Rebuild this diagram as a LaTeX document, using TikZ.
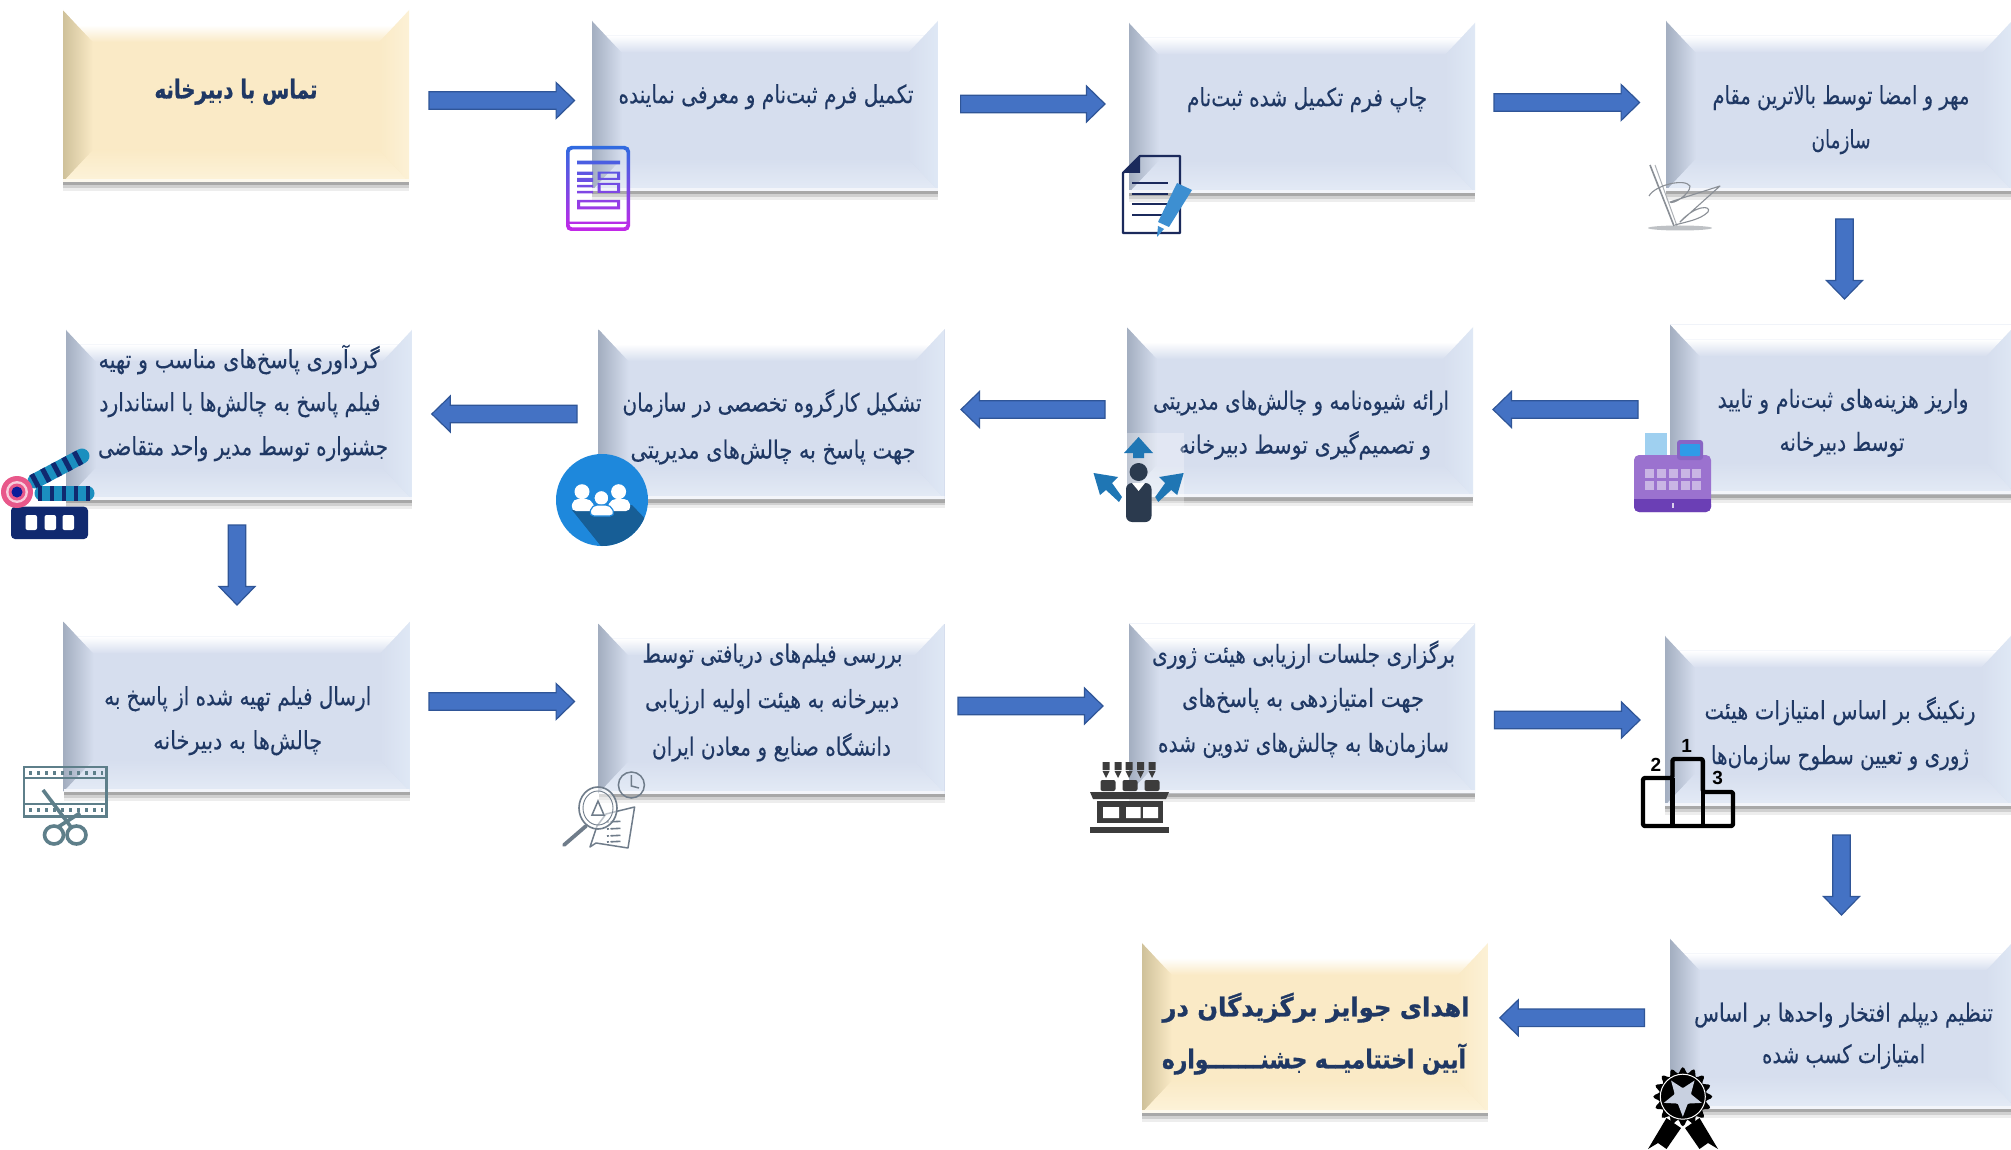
\documentclass[tikz,border=0pt]{standalone}
\usepackage{fontspec}
\usepackage{graphicx}
\usetikzlibrary{calc,shadows}
\TeXXeTstate=1
\newfontfamily\fa[Script=Arabic,FakeBold=0.25]{DejaVu Sans}
\newfontfamily\fab[Script=Arabic,BoldFeatures={FakeBold=1.0}]{DejaVu Sans}
\newfontfamily\numfont{Liberation Sans}
\definecolor{ink}{HTML}{1F3864}
\definecolor{bluemain}{HTML}{D6DEEE}
\definecolor{blueleft}{HTML}{A3AEC0}
\definecolor{blueright}{HTML}{DFE8F5}
\definecolor{bluebottom}{HTML}{E4EBF6}
\definecolor{beigemain}{HTML}{FAEAC6}
\definecolor{beigeleft}{HTML}{CFC19A}
\definecolor{beigeright}{HTML}{FCF1D6}
\definecolor{beigebottom}{HTML}{FDF3DA}
\definecolor{arrowfill}{HTML}{4472C4}
\definecolor{arrowedge}{HTML}{2F5597}
\definecolor{iconnavy}{HTML}{1B2A5C}
\definecolor{penblue}{HTML}{3D8FD1}
\definecolor{siggray}{HTML}{8A8F96}
\definecolor{regbody}{HTML}{9B72CF}
\definecolor{regdark}{HTML}{6B3FB5}
\definecolor{regkey}{HTML}{C9B5E4}
\definecolor{regpaper}{HTML}{9FD0F0}
\definecolor{regscreen}{HTML}{2F9BE8}
\definecolor{persdark}{HTML}{2B3A4E}
\definecolor{persblue}{HTML}{1F76B4}
\definecolor{teamblue}{HTML}{1E88DC}
\definecolor{teamdark}{HTML}{175E96}
\definecolor{clapnavy}{HTML}{10296F}
\definecolor{clapstripe}{HTML}{1B8FBF}
\definecolor{clappink}{HTML}{E8588A}
\definecolor{filmteal}{HTML}{5E7F8A}
\definecolor{lensgray}{HTML}{6F7C8A}
\definecolor{jury}{HTML}{3C3C3C}
\definecolor{medalstar}{HTML}{C8D0E0}
\definecolor{formtop}{HTML}{2F6BE0}
\definecolor{formbottom}{HTML}{C427E8}
\newsavebox\fitbx
% one text line: x offset, y offset from box centre (y down), target width, text
\newcommand\fitline[2]{\sbox\fitbx{#2}\pgfmathsetmacro\fitratio{#1/\the\wd\fitbx}\scalebox{\fitratio}[1]{\usebox\fitbx}}
\newcommand\tl[4]{\makebox[0pt][c]{\hspace*{\dimexpr 2\dimexpr #1pt\relax\relax}\raisebox{\dimexpr -#2pt-6.5pt\relax}[0pt][0pt]{\fitline{#3}{#4}}}}
\newcommand\bevel[4]{%
 \path (path picture bounding box.north west) coordinate (nw)
       (path picture bounding box.north east) coordinate (ne)
       (path picture bounding box.south west) coordinate (sw)
       (path picture bounding box.south east) coordinate (se);
 \shade[left color=#2,middle color=#2!18!#1,right color=#1] (nw) -- ($(nw)+(30pt,-32pt)$) -- ($(sw)+(30pt,32pt)$) -- (sw) -- cycle;
 \shade[left color=#1,right color=#3] (ne) -- ($(ne)+(-30pt,-32pt)$) -- ($(se)+(-30pt,32pt)$) -- (se) -- cycle;
 \shade[top color=#1,bottom color=#4] (sw) -- ($(sw)+(30pt,32pt)$) -- ($(se)+(-30pt,32pt)$) -- (se) -- cycle;
 \fill[white!70!#1] (sw) rectangle ($(se)+(0pt,3pt)$);
 \fill[white] (nw) -- (ne) -- ($(ne)+(-14pt,-15pt)$) -- ($(nw)+(14pt,-15pt)$) -- cycle;
 \shade[top color=white,bottom color=#1] ($(nw)+(14pt,-15pt)$) -- ($(ne)+(-14pt,-15pt)$) -- ($(ne)+(-30pt,-32pt)$) -- ($(nw)+(30pt,-32pt)$) -- cycle;
}
\tikzset{
 boxbase/.style={rectangle,minimum width=346pt,minimum height=170pt,inner sep=0pt,outer sep=0pt,text=ink,
   general shadow={shadow yshift=-9pt,opacity=.07,fill=black},
   general shadow={shadow yshift=-6pt,opacity=.12,fill=black},
   general shadow={shadow yshift=-3.5pt,opacity=.3,fill=black!70}},
 bluebox/.style={boxbase,fill=bluemain,font=\fa\fontsize{25pt}{28pt}\selectfont,
   path picture={\bevel{bluemain}{blueleft}{blueright}{bluebottom}}},
 beigebox/.style={boxbase,fill=beigemain,font=\fab\bfseries\fontsize{26pt}{28pt}\selectfont,
   path picture={\bevel{beigemain}{beigeleft}{beigeright}{beigebottom}}},
 flow/.style={draw=arrowedge,fill=arrowfill,line width=1.2pt,line join=miter,
   to path={let \p1=(\tikztostart),\p2=(\tikztotarget),\n1={atan2(\y2-\y1,\x2-\x1)},\n2={veclen(\x2-\x1,\y2-\y1)} in
     (\p1) ++(\n1+90:8.8pt) -- ($(\p1)+(\n1:{\n2-18.5pt})+(\n1+90:8.8pt)$) -- ($(\p1)+(\n1:{\n2-18.5pt})+(\n1+90:18pt)$)
     -- (\p2) -- ($(\p1)+(\n1:{\n2-18.5pt})+(\n1-90:18pt)$) -- ($(\p1)+(\n1:{\n2-18.5pt})+(\n1-90:8.8pt)$) -- ($(\p1)+(\n1-90:8.8pt)$) -- cycle}},
 podnum/.style={font=\numfont\bfseries\fontsize{19pt}{20pt}\selectfont,text=black,inner sep=0pt},
}
\begin{document}
\begin{tikzpicture}[x=1pt,y=-1pt]
\fill[white] (0,0) rectangle (2011,1150);
\useasboundingbox (0,0) rectangle (2011,1150);
\clip (0,0) rectangle (2011,1150);
% ---------- boxes
\node[beigebox,minimum height=172pt] (b1) at (236,96) {\tl{0}{-4}{163}{\beginR تماس با دبیرخانه\endR}};
\node[bluebox] (b2) at (765,105.7) {\tl{1}{-9}{295}{\beginR تکمیل فرم ثبت‌نام و معرفی نماینده\endR}};
\node[bluebox] (b3) at (1302,107.7) {\tl{5}{-8}{240}{\beginR چاپ فرم تکمیل شده ثبت‌نام\endR}};
\node[bluebox] (b4) at (1839,105.7) {\tl{2}{-8}{257}{\beginR مهر و امضا توسط بالاترین مقام\endR}\tl{2}{36}{59}{\beginR سازمان\endR}};
\node[bluebox] (b5) at (1843,409.3) {\tl{0}{-8}{251}{\beginR واریز هزینه‌های ثبت‌نام و تایید\endR}\tl{-1}{35}{125}{\beginR توسط دبیرخانه\endR}};
\node[bluebox] (b6) at (1300,412) {\tl{1}{-9}{296}{\beginR ارائه شیوه‌نامه و چالش‌های مدیریتی\endR}\tl{5}{35}{252}{\beginR و تصمیم‌گیری توسط دبیرخانه\endR}};
\node[bluebox] (b7) at (771.5,414) {\tl{0.5}{-9}{299}{\beginR تشکیل کارگروه تخصصی در سازمان\endR}\tl{1.5}{38}{285}{\beginR جهت پاسخ به چالش‌های مدیریتی\endR}};
\node[bluebox] (b8) at (239,414.7) {\tl{0}{-53}{281}{\beginR گردآوری پاسخ‌های مناسب و تهیه\endR}\tl{1}{-10}{281}{\beginR فیلم پاسخ به چالش‌ها با استاندارد\endR}\tl{4}{34}{290}{\beginR جشنواره توسط مدیر واحد متقاضی\endR}};
\node[bluebox] (b9) at (236.7,706.7) {\tl{1}{-8}{267}{\beginR ارسال فیلم تهیه شده از پاسخ به\endR}\tl{1}{36}{169}{\beginR چالش‌ها به دبیرخانه\endR}};
\node[bluebox] (b10) at (771.5,708.5) {\tl{1}{-52.5}{260}{\beginR بررسی فیلم‌های دریافتی توسط\endR}\tl{0.5}{-7}{254}{\beginR دبیرخانه به هیئت اولیه ارزیابی\endR}\tl{0}{40.5}{239}{\beginR دانشگاه صنایع و معادن ایران\endR}};
\node[bluebox] (b11) at (1302,708.4) {\tl{1.5}{-52}{303}{\beginR برگزاری جلسات ارزیابی هیئت ژوری\endR}\tl{1}{-8}{242}{\beginR جهت امتیازدهی به پاسخ‌های\endR}\tl{1.5}{37}{291}{\beginR سازمان‌ها به چالش‌های تدوین شده\endR}};
\node[bluebox] (b12) at (1838,720.7) {\tl{2}{-8}{271}{\beginR رنکینگ بر اساس امتیازات هیئت\endR}\tl{2}{37}{258}{\beginR ژوری و تعیین سطوح سازمان‌ها\endR}};
\node[bluebox] (b13) at (1843,1023.5) {\tl{0.6}{-8.5}{299}{\beginR تنظیم دیپلم افتخار واحدها بر اساس\endR}\tl{0.6}{33}{163}{\beginR امتیازات کسب شده\endR}};
\node[beigebox] (b14) at (1315,1027.8) {\tl{1}{-18}{307}{\beginR اهدای جوایز برگزیدگان در\endR}\tl{-1}{34}{304}{\beginR آیین اختتامیــه جشنـــــــواره\endR}};
% ---------- arrows
\draw[flow] ([shift={(20,4.5)}]b1.east) to ([shift={(-17.4,-5.2)}]b2.west);
\draw[flow] ([shift={(22.6,-1.7)}]b2.east) to ([shift={(-24,-3.7)}]b3.west);
\draw[flow] ([shift={(19,-5.2)}]b3.east) to ([shift={(-26.4,-3.2)}]b4.west);
\draw[flow] ([shift={(5.5,28.3)}]b4.south) to ([shift={(1.5,-25.3)}]b5.north);
\draw[flow] ([shift={(-32,0.2)}]b5.west) to ([shift={(20,-2.5)}]b6.east);
\draw[flow] ([shift={(-22,-2.5)}]b6.west) to ([shift={(16.5,-4.5)}]b7.east);
\draw[flow] ([shift={(-21.5,0)}]b7.west) to ([shift={(19.8,-0.7)}]b8.east);
\draw[flow] ([shift={(-2,25.3)}]b8.south) to ([shift={(0.3,-16.7)}]b9.north);
\draw[flow] ([shift={(19.3,-5.2)}]b9.east) to ([shift={(-23.9,-7)}]b10.west);
\draw[flow] ([shift={(13.5,-2.5)}]b10.east) to ([shift={(-26,-2.4)}]b11.west);
\draw[flow] ([shift={(19.5,11.6)}]b11.east) to ([shift={(-25,-0.7)}]b12.west);
\draw[flow] ([shift={(3.5,29.3)}]b12.south) to ([shift={(-1.5,-23.5)}]b13.north);
\draw[flow] ([shift={(-25.5,-5.7)}]b13.west) to ([shift={(11.8,-10)}]b14.east);
% ---------- icon: form
\shade[top color=formtop,bottom color=formbottom,even odd rule]
  [rounded corners=5pt] (566,146) rectangle (630,231) [rounded corners=3pt] (569.5,149.5) rectangle (626.5,227.5) [sharp corners]
  (577,160.7) rectangle (620,164.3)
  (577,171.7) rectangle (593,175) (577,178) rectangle (593,182) (577,185) rectangle (593,187.5) (577,191) rectangle (593,193.5)
  (597.5,171.7) rectangle (620,180) (600.5,173.7) rectangle (617,178)
  (597.5,183) rectangle (620,193) (600.5,185) rectangle (617,191)
  (577,200) rectangle (620,209.3) (580,202.5) rectangle (617,206.5)
  (569.5,221.7) rectangle (626.5,224);
% ---------- icon: document and pen
\draw[iconnavy,line width=2.2pt,line join=round] (1140,156) -- (1180,156) -- (1180,233) -- (1123,233) -- (1123,173) -- cycle;
\fill[iconnavy] (1140,156) -- (1140,173) -- (1123,173) -- cycle;
\foreach \yy in {183,194,204,215} \draw[iconnavy,line width=2.8pt] (1132,\yy) -- (1168,\yy);
\fill[penblue] (1177,183) -- (1192,190) -- (1169,227) -- (1158,222) -- cycle;
\fill[penblue] (1158,226) -- (1164,229) -- (1157,237) -- cycle;
% ---------- icon: signature
\fill[siggray,opacity=.55] (1680,228) ellipse [x radius=32,y radius=2.5];
\draw[siggray,line width=1.6pt] (1650,165) -- (1674,226);
\draw[siggray!70,line width=1pt] (1655,165) -- (1677,226);
\draw[siggray,line width=1.1pt,line join=round] (1649,196) .. controls (1655,185) and (1685,178) .. (1690,186) .. controls (1690,195) and (1672,205) .. (1670,202) -- (1720,186) -- (1680,222) .. controls (1695,205) and (1712,205) .. (1708,212) .. controls (1700,220) and (1685,222) .. (1675,225);
% ---------- icon: cash register
\fill[regpaper] (1645,433) -- (1667,433) -- (1667,463) -- (1645,463) -- cycle;
\fill[regdark] (1645,458) rectangle (1667,463);
\fill[regbody,rounded corners=5pt] (1634,455) rectangle (1711,512);
\fill[regdark,rounded corners=5pt] (1634,499) rectangle (1711,512);
\fill[regdark] (1634,499) rectangle (1711,504);
\fill[white!75!regdark] (1672,503) rectangle (1674,508);
\fill[regdark!80,rounded corners=3pt] (1677,440) rectangle (1703,460);
\fill[regscreen,rounded corners=1pt] (1680,444) rectangle (1700,456);
\foreach \xx in {1645,1657,1669,1681,1692}
  \foreach \yy in {469,481} \fill[regkey] (\xx,\yy) rectangle +(9,9);
% ---------- icon: person with three arrows
\fill[white,opacity=.3] (1093.5,433) rectangle (1184,523);
\fill[persblue] (1138.6,437) -- (1153,453) -- (1144,453) -- (1144,458) -- (1133,458) -- (1133,453) -- (1124,453) -- cycle;
\fill[persblue] (1093.5,473) -- (1118,477) -- (1112,483) -- (1122,497) -- (1119,502) -- (1106,490) -- (1100,495) -- cycle;
\fill[persblue] (1183.7,473) -- (1159.2,477) -- (1165.2,483) -- (1155.2,497) -- (1158.2,502) -- (1171.2,490) -- (1177.2,495) -- cycle;
\fill[persdark] (1138.6,472) circle [radius=9];
\fill[persdark,rounded corners=6pt] (1126,483) rectangle (1151.5,522);
\fill[white] (1132,483) -- (1145,483) -- (1138.6,491) -- cycle;
% ---------- icon: team
\fill[teamblue] (602,500) circle [radius=46];
\begin{scope}
 \clip (602,500) circle [radius=46];
 \fill[teamdark] (572,510) -- (632,505) -- (670,545) -- (620,570) -- cycle;
\end{scope}
\fill[white] (582,491.7) circle [radius=7.5] (618.6,491.7) circle [radius=7.5];
\fill[white,rounded corners=5pt] (571,511) -- (573,499) -- (591,499) -- (596,511) -- cycle;
\fill[white,rounded corners=5pt] (606,511) -- (611,499) -- (629,499) -- (631,511) -- cycle;
\draw[white,fill=white,draw=teamblue,line width=1.2pt] (601.4,498) circle [radius=7.5];
\fill[white,draw=teamblue,line width=1.2pt,rounded corners=5pt] (589,516) -- (592,505) -- (611,505) -- (615,516) -- cycle;
% ---------- icon: clapper
\draw[clapstripe,line width=15pt,line cap=round] (35,481) -- (82,456);
\draw[clapnavy,line width=15pt,dash pattern=on 5pt off 7pt] (33,482) -- (86,454);
\draw[clapstripe,line width=15pt,line cap=round] (42,493) -- (87,493);
\draw[clapnavy,line width=15pt,dash pattern=on 4pt off 8pt] (38,493) -- (90,493);
\fill[clapnavy,rounded corners=4pt] (11,506.7) rectangle (88,539);
\fill[white,rounded corners=2pt] (25.5,515) rectangle (37,530) (44.6,515) rectangle (56,530) (62.5,515) rectangle (74,530);
\fill[clappink] (17,492) circle [radius=16];
\fill[white!70!clappink] (17,492) circle [radius=11];
\fill[clappink] (17,492) circle [radius=8.5];
\fill[clapnavy!70!blue] (17,492) circle [radius=5.5];
% ---------- icon: film and scissors
\draw[filmteal,line width=2.6pt] (24,767) rectangle (106.5,816.7);
\draw[filmteal,line width=1.4pt] (24,778) -- (106.5,778) (24,804) -- (106.5,804);
\draw[filmteal,line width=4pt,dash pattern=on 2.5pt off 5.5pt] (29,772.5) -- (103,772.5);
\draw[filmteal,line width=4pt,dash pattern=on 2.5pt off 5.5pt] (29,810) -- (103,810);
\draw[filmteal,line width=3.6pt] (54,835) ellipse [x radius=9.5,y radius=9];
\draw[filmteal,line width=3.6pt] (76.5,835) ellipse [x radius=9.5,y radius=9];
\draw[filmteal,line width=3.6pt] (58,827) -- (80,813);
\draw[filmteal,line width=3.6pt] (71,827) -- (43,790);
% ---------- icon: magnifier and report
\draw[lensgray,line width=1.5pt] (631.4,785) circle [radius=13];
\draw[lensgray,line width=1.5pt] (631.4,775) -- (631.4,786) -- (639,788);
\draw[lensgray,line width=1.5pt,fill=white,fill opacity=.7,line join=round] (606,814) -- (634.6,807) -- (628,848) -- (596,843) -- (590,847) -- (597,826) -- cycle;
\foreach \yy in {822,829,836,842} \draw[lensgray,line width=1.6pt,dash pattern=on 2pt off 1.5pt on 10pt off 30pt] (607,\yy) -- (627,\yy-1);
\draw[lensgray,line width=1.6pt,fill=white,fill opacity=.55] (598,808) ellipse [x radius=19,y radius=21];
\draw[lensgray,line width=.9pt] (598,808) ellipse [x radius=15,y radius=17];
\draw[lensgray,line width=1.5pt] (592,815) -- (604,815) -- (598,801) -- cycle;
\draw[lensgray,line width=3.8pt,line cap=round] (586,826) -- (564,845);
% ---------- icon: jury
\foreach \xx in {1106,1118,1129,1140.6,1152} \fill[jury] (\xx-3.5,762) rectangle (\xx+3.5,770) (\xx-3.5,771) -- (\xx+3.5,771) -- (\xx,778) -- cycle;
\foreach \xx in {1108,1130,1152} \fill[jury,rounded corners=2pt] (\xx-7.5,780) rectangle (\xx+7.5,791);
\fill[jury] (1090,792) -- (1169,792) -- (1166,799) -- (1093,799) -- cycle;
\fill[jury] (1097,801) rectangle (1162.5,823);
\fill[white] (1103,807) rectangle (1119,818) (1126,807) rectangle (1140.5,818) (1143,807) rectangle (1158,818);
\fill[jury] (1090,827) rectangle (1169,833);
% ---------- icon: podium
\draw[black,line width=4.4pt,line join=round,rounded corners=2pt] (1643,826) -- (1643,778) -- (1672.5,778) -- (1672.5,759) -- (1702.8,759) -- (1702.8,792) -- (1733,792) -- (1733,826) -- cycle;
\draw[black,line width=4.4pt] (1672.5,778) -- (1672.5,826) (1702.8,792) -- (1702.8,826);
\node[podnum] (n1) at (1686.7,745.7) {1};
\node[podnum] (n2) at (1656,765) {2};
\node[podnum] (n3) at (1717.6,777.7) {3};
% ---------- icon: medal
\fill[black] (1666.5,1118) -- (1681,1128) -- (1666.5,1149) -- (1658,1143) -- (1648,1149) -- cycle;
\fill[black] (1699.5,1118) -- (1685,1128) -- (1699.5,1149) -- (1708,1143) -- (1718,1149) -- cycle;
\begin{scope}[shift={(1682.8,1096.7)}]
 \fill[black] plot[samples=97,domain=0:360] (\x:{26.5+3*cos(16*\x)});
 \fill[medalstar] (0,0) circle [radius=9];
 \draw[white,line width=1pt] (0,0) circle [radius=22.5];
 \fill[medalstar] (90:20) -- (126:8.5) -- (162:20) -- (198:8.5) -- (234:20) -- (270:8.5) -- (306:20) -- (342:8.5) -- (18:20) -- (54:8.5) -- cycle;
\end{scope}
\end{tikzpicture}
\end{document}
